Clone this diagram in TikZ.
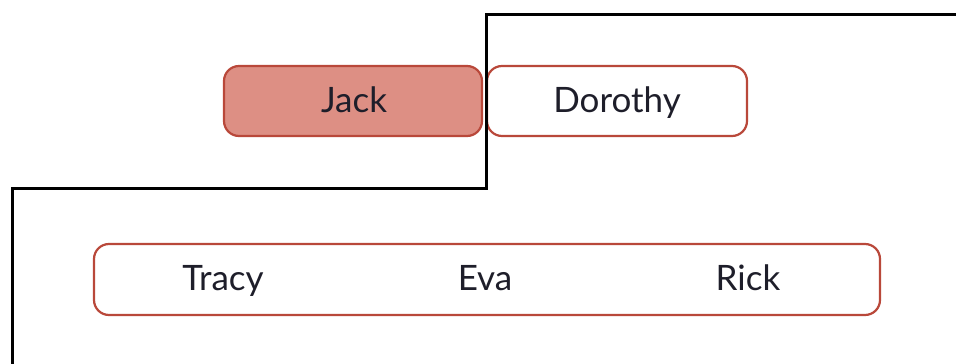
\documentclass[tikz,border=0pt]{standalone}
\usepackage{fontspec}
\setmainfont{Lato}
\definecolor{boxred}{RGB}{185,72,58}
\definecolor{boxfill}{RGB}{221,143,132}
\definecolor{txt}{RGB}{30,30,42}
\begin{document}
\begin{tikzpicture}[x=1pt,y=-1pt,
  pbox/.style={draw=boxred,line width=2.2pt,rounded corners=15pt,minimum height=70pt,inner sep=0pt},
  lbl/.style={font=\fontsize{35}{36}\selectfont,text=txt,inner sep=0pt,anchor=base},
  border/.style={draw=black,line width=3pt}]
\useasboundingbox (0,0) rectangle (956,364);
\node[pbox,fill=boxfill,minimum width=258pt] (jack) at (353,101) {};
\node[lbl] at (354,112) {Jack};
\node[pbox,fill=white,minimum width=260pt] (dorothy) at (617,101) {};
\node[lbl] at (617,112) {Dorothy};
\node[pbox,fill=white,minimum width=786pt,minimum height=71pt] (group) at (487,279.5) {};
\node[lbl] (tracy) at (223,290) {Tracy};
\node[lbl] (eva) at (485,290) {Eva};
\node[lbl] (rick) at (748,290) {Rick};
\coordinate (a) at (960,14);
\coordinate (b) at (486,14);
\coordinate (c) at (486,188);
\coordinate (d) at (12,188);
\coordinate (e) at (12,368);
\draw[border] (a) -- (b) -- (c) -- (d) -- (e);
\end{tikzpicture}
\end{document}
